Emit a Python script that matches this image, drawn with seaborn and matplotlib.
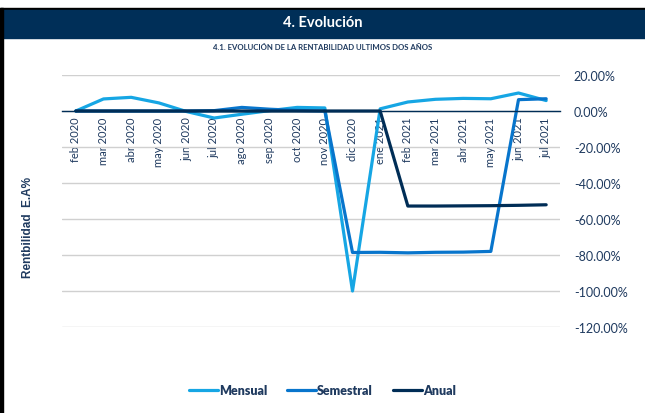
import pandas as pd
import seaborn as sns
import matplotlib.pyplot as plt
from matplotlib.patches import Rectangle
from matplotlib.ticker import FuncFormatter

sns.set_theme(style='white')
plt.rcParams['font.family'] = ['Lato', 'DejaVu Sans']

navy = '#002d56'
text_c = '#1f3a5f'

months = ['feb 2020', 'mar 2020', 'abr 2020', 'may 2020', 'jun 2020', 'jul 2020',
          'ago 2020', 'sep 2020', 'oct 2020', 'nov 2020', 'dic 2020', 'ene 2021',
          'feb 2021', 'mar 2021', 'abr 2021', 'may 2021', 'jun 2021', 'jul 2021']

mensual = [0.0, 6.7, 7.6, 4.5, -0.3, -3.9, -1.8, 0.2, 2.0, 1.7, -100.0, 1.2,
           5.0, 6.5, 7.0, 6.8, 10.0, 5.8]
semestral = [0.0, 0.0, 0.0, 0.0, 0.0, 0.2, 2.0, 1.0, 0.3, 0.0, -78.6, -78.5,
             -78.8, -78.5, -78.4, -78.0, 6.3, 6.8]
anual = [0.0, 0.0, 0.0, 0.0, 0.0, 0.0, 0.0, 0.0, 0.0, 0.0, 0.0, 0.0,
         -52.8, -52.8, -52.7, -52.6, -52.4, -52.1]

series = ['Mensual', 'Semestral', 'Anual']
colors = {'Mensual': '#16a6e4', 'Semestral': '#0875cc', 'Anual': navy}

df = pd.DataFrame({
    'mes': months * 3,
    'serie': [s for s in series for _ in months],
    'valor': mensual + semestral + anual,
})
df['mes'] = pd.Categorical(df['mes'], categories=months, ordered=True)

fig = plt.figure(figsize=(6.45, 4.14), dpi=100, facecolor='white')

# header band and frame
fig.patches.append(Rectangle((0, 1 - 11 / 414), 1, 2 / 414, transform=fig.transFigure,
                             color='black', zorder=0))
fig.patches.append(Rectangle((3 / 645, 1 - 39 / 414), 1, 28 / 414, transform=fig.transFigure,
                             color='#002f58', zorder=0))
fig.patches.append(Rectangle((0, 0), 3 / 645, 1 - 9 / 414, transform=fig.transFigure,
                             color='black', zorder=0))
fig.text(0.5, 1 - 23 / 414, '4. Evolución', color='white', fontsize=10.5,
         fontweight='bold', ha='center', va='center')
fig.text(0.5, 1 - 47 / 414, '4.1. EVOLUCIÓN DE LA RENTABILIDAD ULTIMOS DOS AÑOS',
         color=text_c, fontsize=5.6, fontweight='bold', ha='center', va='center')

ax = fig.add_axes([62 / 645, 86 / 414, 498 / 645, 252 / 414])
sns.lineplot(data=df, x='mes', y='valor', hue='serie', hue_order=series,
             palette=colors, linewidth=2.3, sort=False, legend=False, ax=ax)

ax.set_xlim(-0.5, len(months) - 0.5)
ax.set_ylim(-120, 20)
ax.set_yticks(range(-120, 21, 20))
ax.yaxis.set_major_formatter(FuncFormatter(lambda v, p: f'{v:.2f}%'))
ax.yaxis.tick_right()
ax.tick_params(axis='y', length=0, pad=10, labelsize=9, labelcolor=text_c)
ax.tick_params(axis='x', length=0, pad=4, labelsize=8, labelcolor=text_c, rotation=90)
ax.grid(axis='y', color='#d0d0d0', linewidth=1)
for s in ['top', 'left', 'right']:
    ax.spines[s].set_visible(False)
ax.spines['bottom'].set_position(('data', 0))
ax.spines['bottom'].set_color(navy)
ax.spines['bottom'].set_linewidth(1)
ax.set_xlabel('')
ax.set_ylabel('')
for lab in ax.get_xticklabels():
    lab.set_va('top')

fig.text(28 / 645, 1 - 228 / 414, 'Rentbilidad  E.A%', rotation=90, color=text_c,
         fontsize=8.5, fontweight='bold', family=['Liberation Sans', 'DejaVu Sans'],
         ha='center', va='center')

handles = [plt.Line2D([], [], color=colors[s], linewidth=2.3) for s in series]
leg = fig.legend(handles, series, loc='center', bbox_to_anchor=(0.5, 1 - 391 / 414),
                 ncol=3, frameon=False, handlelength=2.3, handletextpad=0.1,
                 columnspacing=1.6, prop={'weight': 'heavy', 'size': 9})
for t in leg.get_texts():
    t.set_color(text_c)

fig.savefig('out.png', dpi=100, facecolor='white')
